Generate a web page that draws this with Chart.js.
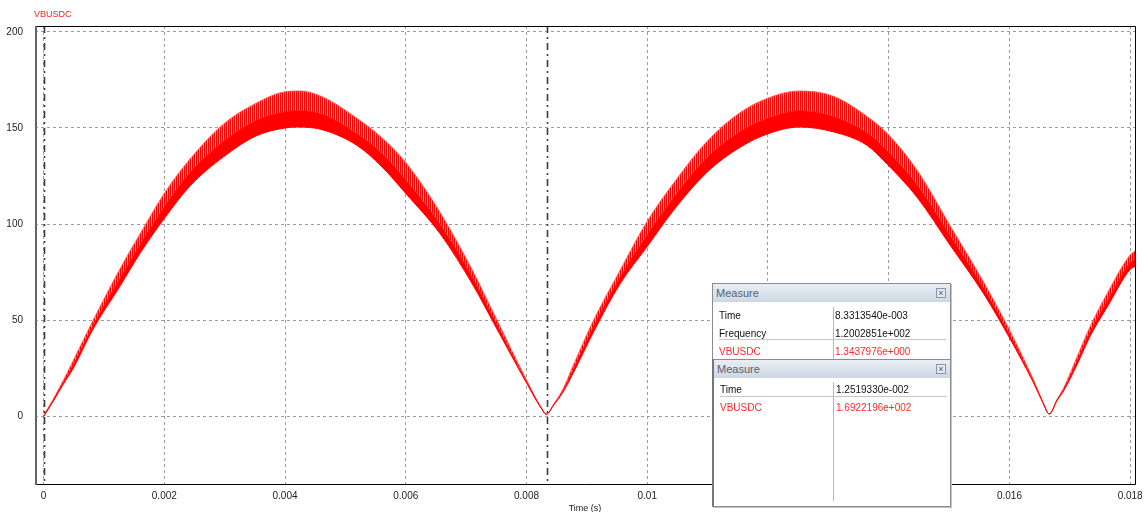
<!DOCTYPE html>
<html>
<head>
<meta charset="utf-8">
<title>VBUSDC</title>
<script src="https://cdn.jsdelivr.net/npm/chart.js@4.4.1/dist/chart.umd.min.js"></script>
<style>
  body { margin: 0; background: #fff; }
  #wrap { position: relative; width: 1144px; height: 512px; overflow: hidden; }
  #scopeChart { position: absolute; left: 0; top: 0; }
  .traceName { position: absolute; left: 34px; top: 9px; font: 9px "Liberation Sans", Arial, sans-serif; color: #ff2020; line-height: 11px; }
  .panel { position: absolute; left: 712px; width: 239px; background: #fff; border: 1px solid #8c8c8c; box-sizing: border-box;
           font-family: "Liberation Sans", Arial, sans-serif; font-size: 10px; box-shadow: 1px 1px 0 #c4c4c4; }
  .panel .bar { position: absolute; left: 0; top: 0; right: 0; height: 18px; line-height: 18px; padding-left: 3px;
                background: linear-gradient(#eaeff5, #cdd7e3); color: #56616e; font-size: 11px; }
  .panel .close { position: absolute; right: 4px; top: 4px; width: 8px; height: 8px; border: 1px solid #8a96a4;
                  background: #e3e8ee; color: #556; font-size: 9px; line-height: 8px; text-align: center; }
  .panel .cell { position: absolute; line-height: 12px; color: #111; white-space: nowrap; }
  .panel .red { color: #ff2a2a; }
  .panel .hsep { position: absolute; height: 1px; background: #c6c6c6; }
  .panel .vsep { position: absolute; width: 1px; background: #b8b8b8; }
</style>
</head>
<body>
<div id="wrap">
  <canvas id="scopeChart" width="1144" height="512"></canvas>
  <div class="traceName">VBUSDC</div>

  <div class="panel" style="top:283px;height:77px;">
    <div class="bar">Measure<div class="close">×</div></div>
    <div class="vsep" style="left:120px;top:23px;height:52px;"></div>
    <div class="cell" style="left:6px;top:26px;">Time</div>
    <div class="cell" style="left:122px;top:26px;">8.3313540e-003</div>
    <div class="cell" style="left:6px;top:44px;">Frequency</div>
    <div class="cell" style="left:122px;top:44px;">1.2002851e+002</div>
    <div class="hsep" style="left:6px;top:55px;width:227px;"></div>
    <div class="cell red" style="left:6px;top:62px;">VBUSDC</div>
    <div class="cell red" style="left:122px;top:62px;">1.3437976e+000</div>
  </div>

  <div class="panel" style="top:359px;height:148px;border-left:2px solid #767676;">
    <div class="bar">Measure<div class="close">×</div></div>
    <div class="vsep" style="left:119px;top:22px;height:119px;"></div>
    <div class="cell" style="left:6px;top:24px;">Time</div>
    <div class="cell" style="left:122px;top:24px;">1.2519330e-002</div>
    <div class="hsep" style="left:6px;top:36px;width:227px;"></div>
    <div class="cell red" style="left:6px;top:42px;">VBUSDC</div>
    <div class="cell red" style="left:122px;top:42px;">1.6922196e+002</div>
  </div>
</div>

<script>
// time axis (s) and the three traces of the rectified bus voltage band
const times = [0, 0.00016, 0.00033, 0.00049, 0.00082, 0.00127, 0.0016, 0.002, 0.00243, 0.00298,
    0.00353, 0.004, 0.00425, 0.00463, 0.00519, 0.0056, 0.006, 0.00657, 0.00712, 0.00745,
    0.008, 0.00824, 0.00833, 0.00845, 0.0086, 0.00878, 0.00911, 0.00955, 0.00999, 0.01043,
    0.01099, 0.01154, 0.012, 0.01252, 0.01308, 0.01364, 0.01398, 0.01447, 0.01502, 0.01557,
    0.016, 0.0164, 0.01655, 0.01666, 0.01679, 0.0169, 0.01712, 0.01734, 0.01762, 0.018,
    0.01808];
// top of the ripple spikes
const vUpper = [0.5, 9, 19, 29, 50, 77, 95, 116, 134, 152,
    163, 168.8, 169.2, 166, 155, 145, 132, 106, 75, 54,
    19, 5, 1.4, 6.5, 14, 27, 50, 76, 101, 121,
    143, 158, 165.5, 169.2, 166.5, 156, 147, 128, 99, 70,
    45, 19, 8, 1.5, 9, 15, 31, 47, 64, 84,
    86];
// top of the dense (solid) part
const vMid = [0.2, 8.5, 18, 27, 47.5, 72, 89.5, 109, 127, 143,
    154, 158.5, 159, 157, 147, 137, 123, 100, 71.5, 51.5,
    18.2, 4.7, 1.3, 6.2, 13.2, 25, 47, 72.5, 94, 113.5,
    134.5, 148, 155, 159, 156, 147.5, 138, 120.5, 94, 67,
    43, 18.2, 7.7, 1.4, 8.7, 14.2, 29, 44.5, 60, 80,
    81.5];
// bottom of the ripple
const vLower = [0, 8, 17, 25, 45.5, 68, 85, 103, 120, 135,
    146, 150, 150.5, 149, 141, 130, 116, 95, 68, 49,
    17.5, 4.5, 1.2, 6, 12.5, 23, 44, 69, 88, 107,
    127, 140, 147, 150.5, 148, 141, 131, 114, 89, 64,
    41, 17.5, 7.5, 1.3, 8.5, 13.5, 27, 42, 57, 76.5,
    78];

const xTickValues = [0, 0.002, 0.004, 0.006, 0.008, 0.01, 0.012, 0.014, 0.016, 0.018];
const xTickLabels = ["0", "0.002", "0.004", "0.006", "0.008", "0.01", "0.012", "0.014", "0.016", "0.018"];
const yTickValues = [0, 50, 100, 150, 200];
const cursorTimes = [0, 0.008331354];

const xMin = -0.000142, xMax = 0.01808;
const yMin = -35, yMax = 203;

function toPoints(ys) {
    return times.map(function(t, i) { return { x: t, y: ys[i] }; });
}

// vertical stripes for the spiky upper part of the band
function stripePattern(ctx) {
    var c = document.createElement("canvas");
    c.width = 4; c.height = 1;
    var p = c.getContext("2d");
    var cols = ["#ff0000", "#ff7070", "#ff0000", "#ffaaaa"];
    cols.forEach(function(col, i) {
        p.fillStyle = col;
        p.fillRect(i, 0, 1, 1);
    });
    return ctx.createPattern(c, "repeat");
}

// cursor lines and the plot frame
const overlay = {
    id: "overlay",
    afterDatasetsDraw(chart) {
        var ctx = chart.ctx, area = chart.chartArea, xs = chart.scales.x;
        ctx.save();
        ctx.strokeStyle = "#3c3c3c";
        ctx.lineWidth = 1.6;
        ctx.setLineDash([7, 4, 2, 4]);
        cursorTimes.forEach(function(t) {
            var x = Math.round(xs.getPixelForValue(t)) + 0.5;
            ctx.beginPath();
            ctx.moveTo(x, area.top);
            ctx.lineTo(x, area.bottom);
            ctx.stroke();
        });
        ctx.setLineDash([]);
        ctx.strokeStyle = "#000";
        ctx.lineWidth = 1;
        ctx.beginPath();
        ctx.moveTo(area.left, area.top + 0.5);
        ctx.lineTo(area.right + 0.5, area.top + 0.5);
        ctx.lineTo(area.right + 0.5, area.bottom + 0.5);
        ctx.lineTo(area.left, area.bottom + 0.5);
        ctx.stroke();
        ctx.strokeStyle = "#666";
        ctx.lineWidth = 2;
        ctx.beginPath();
        ctx.moveTo(area.left + 1, area.top);
        ctx.lineTo(area.left + 1, area.bottom + 1);
        ctx.stroke();
        ctx.restore();
    }
};

window.onload = function() {
    var canvas = document.getElementById("scopeChart");
    var context = canvas.getContext("2d");
    var tickFont = { family: "'Liberation Sans', Arial, sans-serif", size: 10 };

    new Chart(context, {
        type: "line",
        data: {
            datasets: [{
                label: "lower",
                data: toPoints(vLower),
                borderColor: "#ff0000",
                borderWidth: 1,
                pointRadius: 0,
                fill: false,
                cubicInterpolationMode: "monotone"
            }, {
                label: "mid",
                data: toPoints(vMid),
                borderColor: "#ff0000",
                borderWidth: 0.5,
                backgroundColor: "#ff0000",
                pointRadius: 0,
                fill: "-1",
                cubicInterpolationMode: "monotone"
            }, {
                label: "VBUSDC",
                data: toPoints(vUpper),
                borderColor: "rgba(255,70,70,0.85)",
                borderWidth: 1,
                backgroundColor: stripePattern(context),
                pointRadius: 0,
                fill: "-1",
                cubicInterpolationMode: "monotone"
            }]
        },
        options: {
            responsive: false,
            animation: false,
            events: [],
            layout: { padding: { top: 26, right: 9, left: 0, bottom: 0 } },
            plugins: { legend: { display: false }, tooltip: { enabled: false }, title: { display: false } },
            scales: {
                x: {
                    type: "linear",
                    min: xMin,
                    max: xMax,
                    afterBuildTicks: function(s) { s.ticks = xTickValues.map(function(v) { return { value: v }; }); },
                    afterFit: function(s) {
                        s.height = 28;
                        s.paddingLeft = 0;
                        s.paddingRight = 0;
                    },
                    ticks: {
                        autoSkip: false,
                        maxRotation: 0,
                        padding: 6,
                        color: "#222",
                        font: tickFont,
                        callback: function(v, i) { return xTickLabels[i]; }
                    },
                    grid: { color: "#9c9c9c", lineWidth: 1, drawTicks: false },
                    border: { display: false, dash: [3, 3] },
                    title: { display: true, text: "Time (s)", color: "#222",
                             font: { family: "'Liberation Sans', Arial, sans-serif", size: 9, lineHeight: 0.85 }, padding: 0 }
                },
                y: {
                    type: "linear",
                    min: yMin,
                    max: yMax,
                    afterBuildTicks: function(s) { s.ticks = yTickValues.map(function(v) { return { value: v }; }); },
                    afterFit: function(s) { s.width = 35; },
                    ticks: { padding: 12, color: "#222", font: tickFont },
                    grid: { color: "#9c9c9c", lineWidth: 1, drawTicks: false },
                    border: { display: false, dash: [3, 3] }
                }
            }
        },
        plugins: [overlay]
    });
};
</script>
</body>
</html>
